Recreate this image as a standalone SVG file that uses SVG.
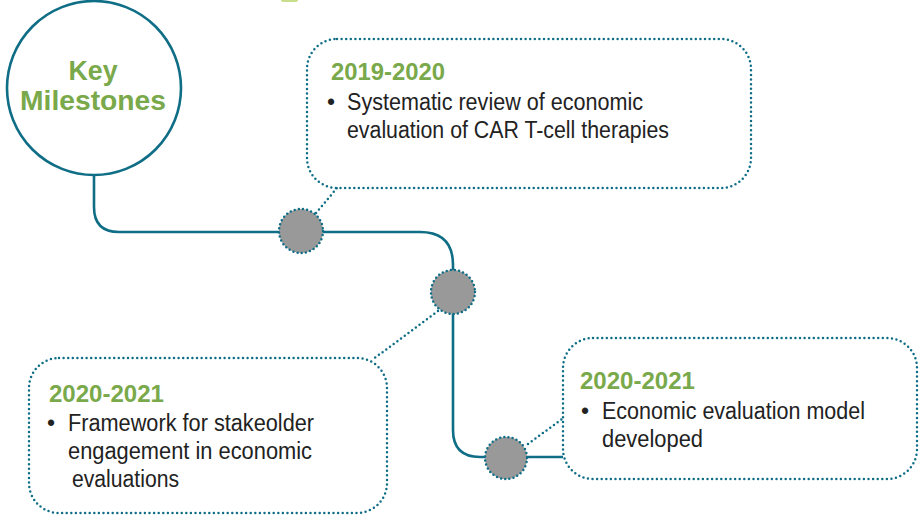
<svg xmlns="http://www.w3.org/2000/svg" width="919" height="516" viewBox="0 0 919 516">
<style>
.path{fill:none;stroke:#0f6e86;stroke-width:2.6}
.dot{fill:none;stroke:#0f6e86;stroke-width:2.5;stroke-dasharray:0 4.6;stroke-linecap:round}
.node{fill:#999999;stroke:#0f6e86;stroke-width:2.5;stroke-dasharray:0 4.2;stroke-linecap:round}
.title{font-family:"Liberation Sans",Arial,sans-serif;font-weight:bold;fill:#79a94a}
.yr{font-family:"Liberation Sans",Arial,sans-serif;font-weight:bold;font-size:24px;fill:#79a94a}
.body{font-family:"Liberation Sans",Arial,sans-serif;font-size:23px;fill:#222222}
</style>
<rect x="281" y="-2" width="17" height="4" rx="2" fill="#c9de8a"/>
<g id="connectors">
<path class="path" d="M94,175 V207 Q94,232 119,232 H420 Q453,232 453,265 V430 Q453,457 480,457 H563"/>
<path class="dot" d="M316,213 L337,188"/>
<path class="dot" d="M438,311 L372,360"/>
<path class="dot" d="M528,444 L562,419"/>
</g>
<g id="key-milestones">
<circle cx="94" cy="88" r="87" fill="#ffffff" stroke="#0f6e86" stroke-width="2.6"/>
<text class="title" font-size="28" x="93" y="80" text-anchor="middle" textLength="49" lengthAdjust="spacingAndGlyphs">Key</text>
<text class="title" font-size="28" x="93" y="110" text-anchor="middle" textLength="146" lengthAdjust="spacingAndGlyphs">Milestones</text>
</g>
<g id="node1"><circle class="node" cx="301" cy="231" r="22"/></g>
<g id="node2"><circle class="node" cx="453" cy="292" r="22"/></g>
<g id="node3"><circle class="node" cx="506" cy="458" r="21"/></g>
<g id="box1">
<rect class="dot" x="307" y="39" width="444" height="149" rx="30" fill="#ffffff"/>
<text class="yr" x="331" y="80" textLength="114" lengthAdjust="spacingAndGlyphs">2019-2020</text>
<text class="body" x="327" y="110">•</text>
<text class="body" x="347" y="110" textLength="296" lengthAdjust="spacingAndGlyphs">Systematic review of economic</text>
<text class="body" x="347" y="138" textLength="322" lengthAdjust="spacingAndGlyphs">evaluation of CAR T-cell therapies</text>
</g>
<g id="box2">
<rect class="dot" x="29" y="358" width="358" height="155" rx="30" fill="#ffffff"/>
<text class="yr" x="49" y="402" textLength="115" lengthAdjust="spacingAndGlyphs">2020-2021</text>
<text class="body" x="47" y="431">•</text>
<text class="body" x="68" y="431" textLength="246" lengthAdjust="spacingAndGlyphs">Framework for stakeolder</text>
<text class="body" x="68" y="459" textLength="244" lengthAdjust="spacingAndGlyphs">engagement in economic</text>
<text class="body" x="72" y="487" textLength="107" lengthAdjust="spacingAndGlyphs">evaluations</text>
</g>
<g id="box3">
<rect class="dot" x="563" y="338" width="354" height="141" rx="30" fill="#ffffff"/>
<text class="yr" x="580" y="389" textLength="115" lengthAdjust="spacingAndGlyphs">2020-2021</text>
<text class="body" x="581" y="419">•</text>
<text class="body" x="602" y="419" textLength="263" lengthAdjust="spacingAndGlyphs">Economic evaluation model</text>
<text class="body" x="602" y="447" textLength="101" lengthAdjust="spacingAndGlyphs">developed</text>
</g>
</svg>
